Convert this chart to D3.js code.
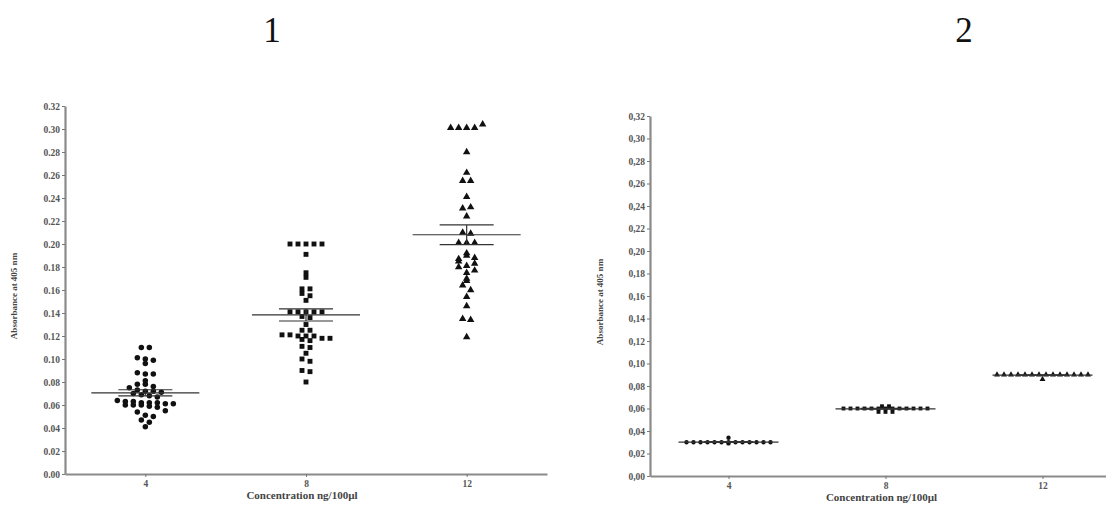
<!DOCTYPE html>
<html>
<head>
<meta charset="utf-8">
<script src="https://cdn.jsdelivr.net/npm/d3@7"></script>
<style>
  body { margin: 0; background: #fff; }
  svg text { font-family: "Liberation Serif", "DejaVu Serif", serif; }
  .tick text { font-weight: bold; fill: #555; font-size: 9.5px; }
  .ytitle, .xtitle { font-weight: bold; fill: #444; }
</style>
</head>
<body>
<div id="chart"></div>
<script>
// categories (concentration ng/100µl)
var groups = ["4", "8", "12"];
// y tick labels
var yTicks = [0.00, 0.02, 0.04, 0.06, 0.08, 0.10, 0.12, 0.14, 0.16, 0.18, 0.20, 0.22, 0.24, 0.26, 0.28, 0.30, 0.32];

// panel 1 - absorbance readings per group
var plate1_4 = [0.110, 0.110, 0.101, 0.100, 0.099, 0.096, 0.088, 0.087, 0.087, 0.081, 0.078, 0.078, 0.076, 0.075,
  0.073, 0.072, 0.072, 0.071, 0.070, 0.069, 0.068, 0.067, 0.064, 0.063, 0.063, 0.062, 0.062, 0.062, 0.061, 0.061,
  0.060, 0.060, 0.060, 0.059, 0.058, 0.055, 0.054, 0.051, 0.050, 0.047, 0.045, 0.041];
var plate1_8 = [0.200, 0.200, 0.200, 0.200, 0.200, 0.191, 0.175, 0.171, 0.161, 0.161, 0.157, 0.155, 0.151,
  0.141, 0.141, 0.141, 0.141, 0.141, 0.137, 0.136, 0.130, 0.125, 0.125, 0.121, 0.121, 0.120, 0.120, 0.120,
  0.118, 0.118, 0.117, 0.116, 0.111, 0.110, 0.105, 0.100, 0.098, 0.090, 0.089, 0.080];
var plate1_12 = [0.301, 0.301, 0.301, 0.301, 0.304, 0.280, 0.262, 0.255, 0.255, 0.241, 0.231, 0.232, 0.224,
  0.210, 0.209, 0.201, 0.201, 0.201, 0.187, 0.185, 0.190, 0.192, 0.188, 0.181, 0.183, 0.180, 0.175, 0.177,
  0.170, 0.168, 0.164, 0.160, 0.154, 0.146, 0.135, 0.134, 0.119];

// panel 2
var plate2_4 = [0.030, 0.030, 0.030, 0.030, 0.030, 0.030, 0.030, 0.030, 0.030, 0.030, 0.030, 0.030, 0.030, 0.034, 0.029];
var plate2_8 = [0.060, 0.060, 0.060, 0.060, 0.060, 0.060, 0.060, 0.060, 0.060, 0.060, 0.060, 0.060, 0.060,
  0.062, 0.062, 0.057, 0.057, 0.057];
var plate2_12 = [0.090, 0.090, 0.090, 0.090, 0.090, 0.090, 0.090, 0.090, 0.090, 0.090, 0.090, 0.090, 0.090, 0.090, 0.086];

var symbols = [d3.symbolCircle, d3.symbolSquare, d3.symbolTriangle];

/*
 * ScatterPanel - one column scatter plot (mean +/- SEM)
 */
ScatterPanel = function(_svg, _data, _config){
  this.svg = _svg;
  this.data = _data;
  this.config = _config;
  this.initVis();
}

ScatterPanel.prototype.initVis = function(){
  var vis = this;
  var c = vis.config;

  vis.g = vis.svg.append("g");

  vis.x = d3.scalePoint().domain(groups).range([c.left, c.right]).padding(0.5);
  vis.y = d3.scaleLinear().domain([0, 0.32]).range([c.bottom, c.top]);

  vis.yAxis = d3.axisLeft(vis.y)
    .tickValues(yTicks)
    .tickSize(3)
    .tickSizeOuter(0)
    .tickPadding(2)
    .tickFormat(function(d){
      var s = d3.format(".2f")(d);
      return c.comma ? s.replace(".", ",") : s;
    });

  vis.xAxis = d3.axisBottom(vis.x).tickSize(3).tickSizeOuter(0).tickPadding(3);

  vis.g.append("g")
    .attr("transform", "translate(0," + c.bottom + ")")
    .call(vis.xAxis)
    .call(styleAxis);

  vis.g.append("g")
    .attr("transform", "translate(" + c.left + ",0)")
    .call(vis.yAxis)
    .call(styleAxis);

  // titles
  vis.g.append("text")
    .attr("x", c.titleX)
    .attr("y", 42)
    .attr("text-anchor", "middle")
    .style("font-size", "35px")
    .style("fill", "#111")
    .text(c.title);

  vis.g.append("text")
    .attr("class", "ytitle")
    .attr("transform", "translate(" + c.yTitleX + "," + ((c.top + c.bottom) / 2 + 6) + ") rotate(-90)")
    .attr("text-anchor", "middle")
    .style("font-size", "9px")
    .text("Absorbance at 405 nm");

  vis.g.append("text")
    .attr("class", "xtitle")
    .attr("x", vis.x("8") - 4)
    .attr("y", c.bottom + 25)
    .attr("text-anchor", "middle")
    .style("font-size", "11px")
    .text("Concentration ng/100\u00b5l");

  vis.updateVis();
}

ScatterPanel.prototype.updateVis = function(){
  var vis = this;
  var c = vis.config;

  vis.data.forEach(function(values, gi){
    var cx = vis.x(groups[gi]);

    // bin points into rows so equal values sit side by side
    var rows = d3.group(values, function(v){ return Math.round(vis.y(v) / c.binH); });
    var pts = [];
    rows.forEach(function(vals){
      vals.forEach(function(v, i){
        pts.push({ x: cx + (i - (vals.length - 1) / 2) * c.dx, y: vis.y(v) });
      });
    });

    vis.g.append("g").selectAll("path")
      .data(pts)
      .enter()
      .append("path")
      .attr("d", d3.symbol().type(symbols[gi]).size(c.symSize))
      .attr("transform", function(d){ return "translate(" + d.x + "," + d.y + ")"; })
      .style("fill", "#111");

    // mean and SEM
    var m = d3.mean(values);
    var sem = d3.deviation(values) / Math.sqrt(values.length);
    var lines = [
      [cx - c.meanHalf, vis.y(m), cx + c.meanHalf, vis.y(m)],
      [cx - c.semHalf, vis.y(m + sem), cx + c.semHalf, vis.y(m + sem)],
      [cx - c.semHalf, vis.y(m - sem), cx + c.semHalf, vis.y(m - sem)],
      [cx, vis.y(m + sem), cx, vis.y(m - sem)]
    ];
    vis.g.append("g").selectAll("line")
      .data(lines)
      .enter()
      .append("line")
      .attr("x1", d => d[0]).attr("y1", d => d[1])
      .attr("x2", d => d[2]).attr("y2", d => d[3])
      .style("stroke", "#333")
      .style("stroke-width", 1.2);
  });
}

function styleAxis(sel){
  sel.select(".domain").style("stroke", "#8a8a8a").style("stroke-width", 2.2);
  sel.selectAll(".tick line").style("stroke", "#777");
}

var svg = d3.select("#chart").append("svg")
  .attr("width", 1106)
  .attr("height", 506);

new ScatterPanel(svg, [plate1_4, plate1_8, plate1_12], {
  left: 65, right: 547, top: 106, bottom: 474,
  title: "1", titleX: 272, yTitleX: 17, comma: false,
  binH: 6, dx: 8, symSize: 24,
  meanHalf: 54, semHalf: 27
});

new ScatterPanel(svg, [plate2_4, plate2_8, plate2_12], {
  left: 650, right: 1121, top: 116, bottom: 476,
  title: "2", titleX: 964, yTitleX: 603, comma: true,
  binH: 4.5, dx: 7, symSize: 15,
  meanHalf: 50, semHalf: 25
});
</script>
</body>
</html>
